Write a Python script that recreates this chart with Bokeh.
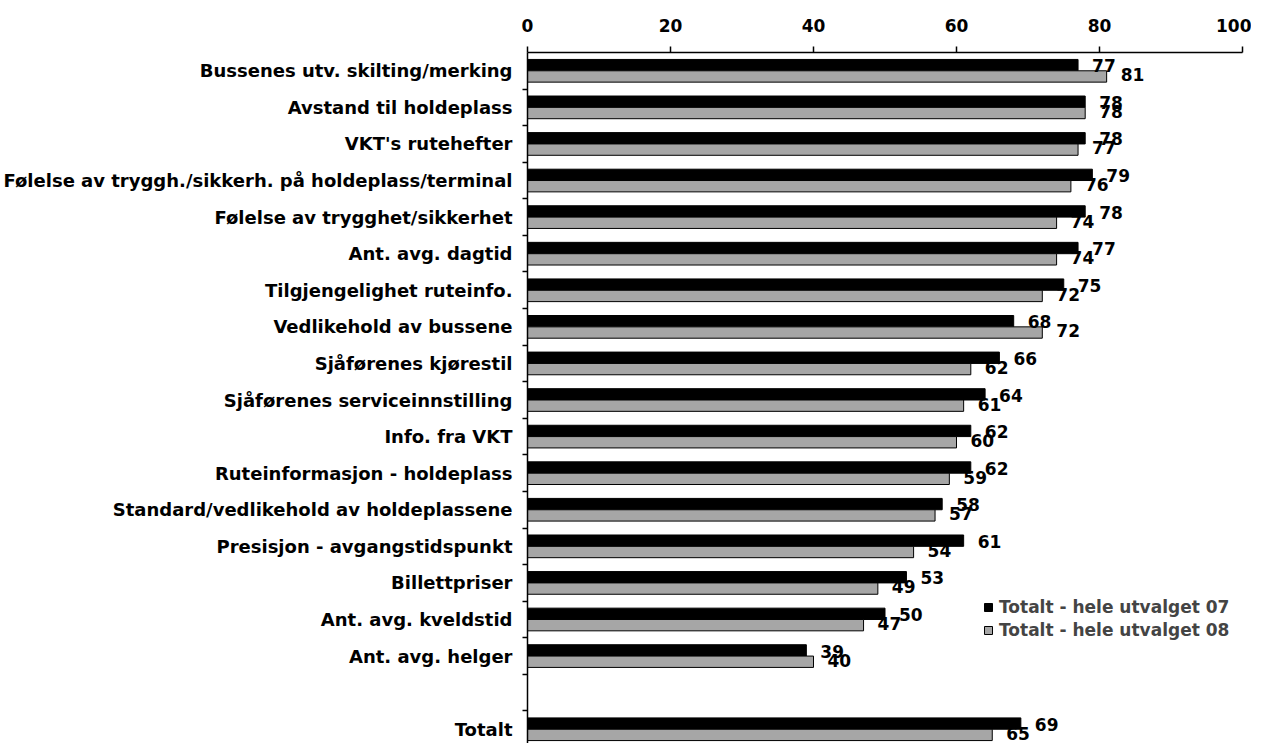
from bokeh.plotting import figure
from bokeh.models import Range1d, FixedTicker, Legend, LegendItem, ColumnDataSource
from bokeh.core.properties import value
from bokeh.transform import dodge
from bokeh.embed import file_html
from bokeh.resources import INLINE

categories = [
    "Bussenes utv. skilting/merking",
    "Avstand til holdeplass",
    "VKT's rutehefter",
    "Følelse av tryggh./sikkerh. på holdeplass/terminal",
    "Følelse av trygghet/sikkerhet",
    "Ant. avg. dagtid",
    "Tilgjengelighet ruteinfo.",
    "Vedlikehold av bussene",
    "Sjåførenes kjørestil",
    "Sjåførenes serviceinnstilling",
    "Info. fra VKT",
    "Ruteinformasjon - holdeplass",
    "Standard/vedlikehold av holdeplassene",
    "Presisjon - avgangstidspunkt",
    "Billettpriser",
    "Ant. avg. kveldstid",
    "Ant. avg. helger",
    "Totalt",
]
slots = list(range(17)) + [18]  # empty slot before "Totalt"
series07 = [77, 78, 78, 79, 78, 77, 75, 68, 66, 64, 62, 62, 58, 61, 53, 50, 39, 69]
series08 = [81, 78, 77, 76, 74, 74, 72, 72, 62, 61, 60, 59, 57, 54, 49, 47, 40, 65]
legend_labels = ["Totalt - hele utvalget 07", "Totalt - hele utvalget 08"]
x_ticks = [0, 20, 40, 60, 80, 100]

FONT = "DejaVu Sans"

src = ColumnDataSource(dict(
    y=slots, v07=series07, v08=series08,
    t07=[str(v) for v in series07], t08=[str(v) for v in series08],
))

p = figure(width=1251, height=743, output_backend="svg", toolbar_location=None,
           x_range=Range1d(0, 100), y_range=Range1d(18.39, -0.5),
           x_axis_location="above",
           min_border_left=519, min_border_right=9, min_border_top=52, min_border_bottom=0,
           outline_line_color=None, background_fill_color="white")
p.xgrid.visible = False
p.ygrid.visible = False

r07 = p.hbar(y=dodge("y", -0.155, range=p.y_range), right="v07", left=0, height=0.31,
             fill_color="black", line_color="black", line_width=1, source=src)
r08 = p.hbar(y=dodge("y", 0.155, range=p.y_range), right="v08", left=0, height=0.31,
             fill_color="#a6a6a6", line_color="black", line_width=1, source=src)

p.text(x="v07", y="y", text="t07", x_offset=14, y_offset=-5, text_baseline="middle",
       text_font=value(FONT), text_font_style="bold", text_font_size="17px",
       text_color="black", source=src)
p.text(x="v08", y="y", text="t08", x_offset=14, y_offset=4, text_baseline="middle",
       text_font=value(FONT), text_font_style="bold", text_font_size="17px",
       text_color="black", source=src)

xa = p.xaxis[0]
xa.ticker = FixedTicker(ticks=x_ticks)
xa.major_tick_out = 6
xa.major_tick_in = 0
xa.minor_tick_out = 0
xa.minor_tick_in = 0
xa.axis_line_width = 1.5
xa.major_tick_line_width = 1.5
xa.major_label_standoff = 15
xa.major_label_text_font = FONT
xa.major_label_text_font_style = "bold"
xa.major_label_text_font_size = "17px"
xa.major_label_text_color = "black"

ya = p.yaxis[0]
ya.ticker = FixedTicker(ticks=slots, minor_ticks=[i + 0.5 for i in range(18)])
ya.major_label_overrides = {s: c for s, c in zip(slots, categories)}
ya.major_tick_out = 0
ya.major_tick_in = 0
ya.minor_tick_out = 5
ya.minor_tick_in = 0
ya.axis_line_width = 1.5
ya.minor_tick_line_width = 1.5
ya.major_label_standoff = 10
ya.major_label_text_font = FONT
ya.major_label_text_font_style = "bold"
ya.major_label_text_font_size = "18px"
ya.major_label_text_color = "black"

legend = Legend(items=[LegendItem(label=legend_labels[0], renderers=[r07]),
                       LegendItem(label=legend_labels[1], renderers=[r08])],
                location=(456, 103), border_line_color=None, background_fill_alpha=0,
                label_text_font=FONT, label_text_font_style="bold",
                label_text_font_size="17px", glyph_width=10, glyph_height=10,
                padding=0, margin=0, spacing=3, label_height=20, label_standoff=6)
p.add_layout(legend)

open("out.html", "w").write(file_html(p, INLINE))
